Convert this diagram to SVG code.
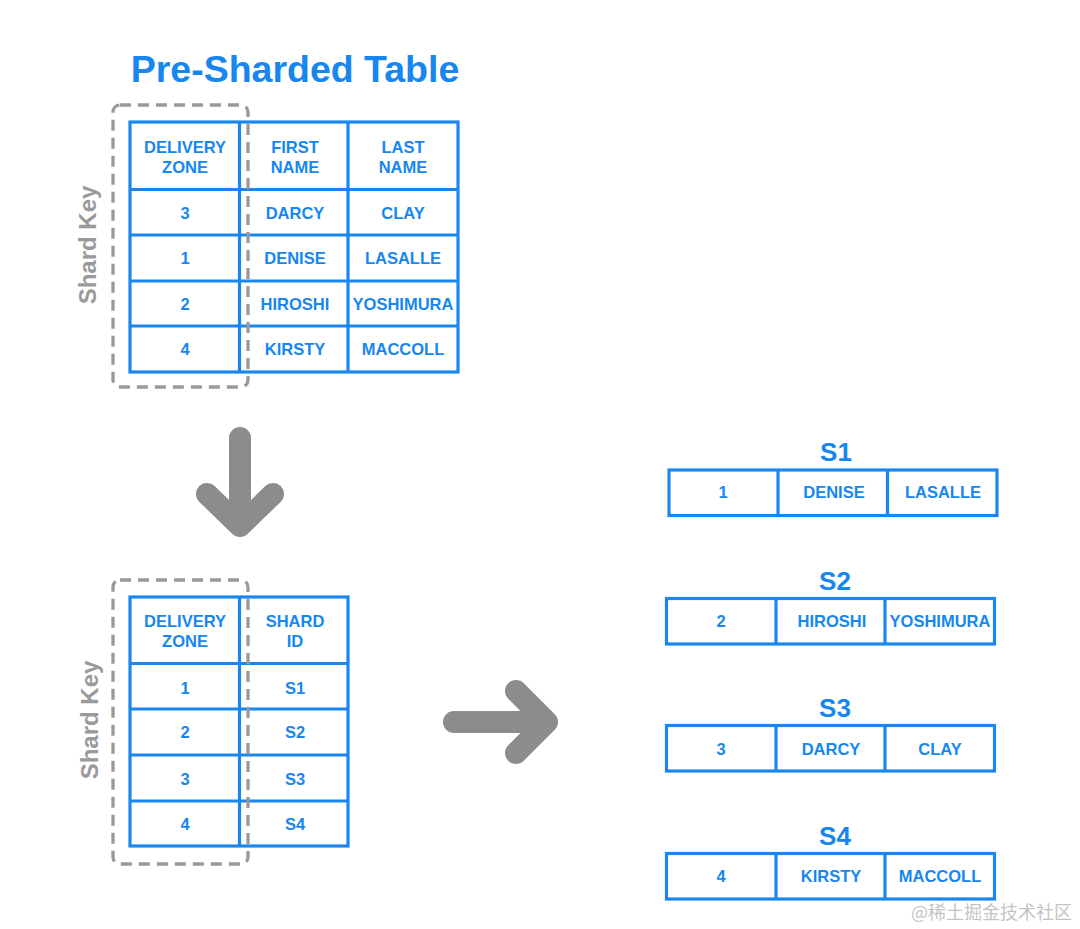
<svg xmlns="http://www.w3.org/2000/svg" width="1080" height="929" viewBox="0 0 1080 929">
<defs>
<style>
.cell{fill:none;stroke:#1a87f0;stroke-width:3.2}
.t{font-family:"Liberation Sans",Arial,sans-serif;font-weight:bold;font-size:16.5px;fill:#1787ef;text-anchor:middle}
.title{font-family:"Liberation Sans",Arial,sans-serif;font-weight:bold;fill:#1787ef;text-anchor:middle}
.key{font-family:"Liberation Sans",Arial,sans-serif;font-weight:bold;font-size:24px;fill:#9a9a9a;text-anchor:middle}
.dash{fill:none;stroke:#999;stroke-width:3.3;stroke-dasharray:11 7}
.arr{fill:none;stroke:#8c8c8c;stroke-width:22;stroke-linecap:round;stroke-linejoin:round}
</style>
</defs>
<rect width="1080" height="929" fill="#fff"/>

<text class="title" x="295" y="82" font-size="37.5">Pre-Sharded Table</text>

<g id="pre-sharded-table">
<rect class="cell" x="130" y="122" width="328" height="250"/>
<line class="cell" x1="239.5" y1="122" x2="239.5" y2="372"/>
<line class="cell" x1="348" y1="122" x2="348" y2="372"/>
<line class="cell" x1="130" y1="189.5" x2="458" y2="189.5"/>
<line class="cell" x1="130" y1="235" x2="458" y2="235"/>
<line class="cell" x1="130" y1="281" x2="458" y2="281"/>
<line class="cell" x1="130" y1="326" x2="458" y2="326"/>
<text class="t" x="185" y="153">DELIVERY</text><text class="t" x="185" y="173">ZONE</text>
<text class="t" x="295" y="153">FIRST</text><text class="t" x="295" y="173">NAME</text>
<text class="t" x="403" y="153">LAST</text><text class="t" x="403" y="173">NAME</text>
<text class="t" x="185" y="219">3</text><text class="t" x="295" y="219">DARCY</text><text class="t" x="403" y="219">CLAY</text>
<text class="t" x="185" y="264">1</text><text class="t" x="295" y="264">DENISE</text><text class="t" x="403" y="264">LASALLE</text>
<text class="t" x="185" y="310">2</text><text class="t" x="295" y="310">HIROSHI</text><text class="t" x="403" y="310">YOSHIMURA</text>
<text class="t" x="185" y="355">4</text><text class="t" x="295" y="355">KIRSTY</text><text class="t" x="403" y="355">MACCOLL</text>
</g>
<g id="shard-key-top">
<rect class="dash" x="113" y="105" width="135" height="282" rx="7"/>
<text class="key" transform="translate(96,245) rotate(-90)">Shard Key</text>
</g>

<g id="lookup-table">
<rect class="cell" x="130" y="597" width="218" height="249"/>
<line class="cell" x1="239.5" y1="597" x2="239.5" y2="846"/>
<line class="cell" x1="130" y1="663.5" x2="348" y2="663.5"/>
<line class="cell" x1="130" y1="709" x2="348" y2="709"/>
<line class="cell" x1="130" y1="755" x2="348" y2="755"/>
<line class="cell" x1="130" y1="801" x2="348" y2="801"/>
<text class="t" x="185" y="627">DELIVERY</text><text class="t" x="185" y="647">ZONE</text>
<text class="t" x="295" y="627">SHARD</text><text class="t" x="295" y="647">ID</text>
<text class="t" x="185" y="694">1</text><text class="t" x="295" y="694">S1</text>
<text class="t" x="185" y="738">2</text><text class="t" x="295" y="738">S2</text>
<text class="t" x="185" y="785">3</text><text class="t" x="295" y="785">S3</text>
<text class="t" x="185" y="830">4</text><text class="t" x="295" y="830">S4</text>
</g>
<g id="shard-key-bottom">
<rect class="dash" x="113" y="580" width="135" height="284" rx="7"/>
<text class="key" transform="translate(98,720) rotate(-90)">Shard Key</text>
</g>

<g id="connectors">
<path class="arr" d="M240,438 L240,526 M207,494 L240,526 L273,494"/>
<path class="arr" d="M454,722 L547,722 M516,691 L547,722 L516,753"/>
</g>

<g id="shard-s1">
<text class="title" x="836" y="461" font-size="26">S1</text>
<rect class="cell" x="669" y="470" width="328" height="45.5"/>
<line class="cell" x1="778" y1="470" x2="778" y2="515.5"/>
<line class="cell" x1="887.5" y1="470" x2="887.5" y2="515.5"/>
<text class="t" x="723" y="498">1</text><text class="t" x="834" y="498">DENISE</text><text class="t" x="943" y="498">LASALLE</text>
</g>
<g id="shard-s2">
<text class="title" x="835" y="590" font-size="26">S2</text>
<rect class="cell" x="666.5" y="598.5" width="328" height="45.5"/>
<line class="cell" x1="776" y1="598.5" x2="776" y2="644"/>
<line class="cell" x1="885" y1="598.5" x2="885" y2="644"/>
<text class="t" x="721" y="627">2</text><text class="t" x="832" y="627">HIROSHI</text><text class="t" x="940" y="627">YOSHIMURA</text>
</g>
<g id="shard-s3">
<text class="title" x="835" y="717" font-size="26">S3</text>
<rect class="cell" x="666.5" y="725.5" width="328" height="45.5"/>
<line class="cell" x1="776" y1="725.5" x2="776" y2="771"/>
<line class="cell" x1="885" y1="725.5" x2="885" y2="771"/>
<text class="t" x="721" y="755">3</text><text class="t" x="831" y="755">DARCY</text><text class="t" x="940" y="755">CLAY</text>
</g>
<g id="shard-s4">
<text class="title" x="835" y="845" font-size="26">S4</text>
<rect class="cell" x="666.5" y="853.5" width="328" height="45.5"/>
<line class="cell" x1="776" y1="853.5" x2="776" y2="899"/>
<line class="cell" x1="885" y1="853.5" x2="885" y2="899"/>
<text class="t" x="721" y="882">4</text><text class="t" x="831" y="882">KIRSTY</text><text class="t" x="940" y="882">MACCOLL</text>
</g>

<text x="1072" y="919" font-family="'Noto Sans CJK SC','Liberation Sans',sans-serif" font-size="18" fill="#c4c4c4" text-anchor="end">@稀土掘金技术社区</text>
</svg>
